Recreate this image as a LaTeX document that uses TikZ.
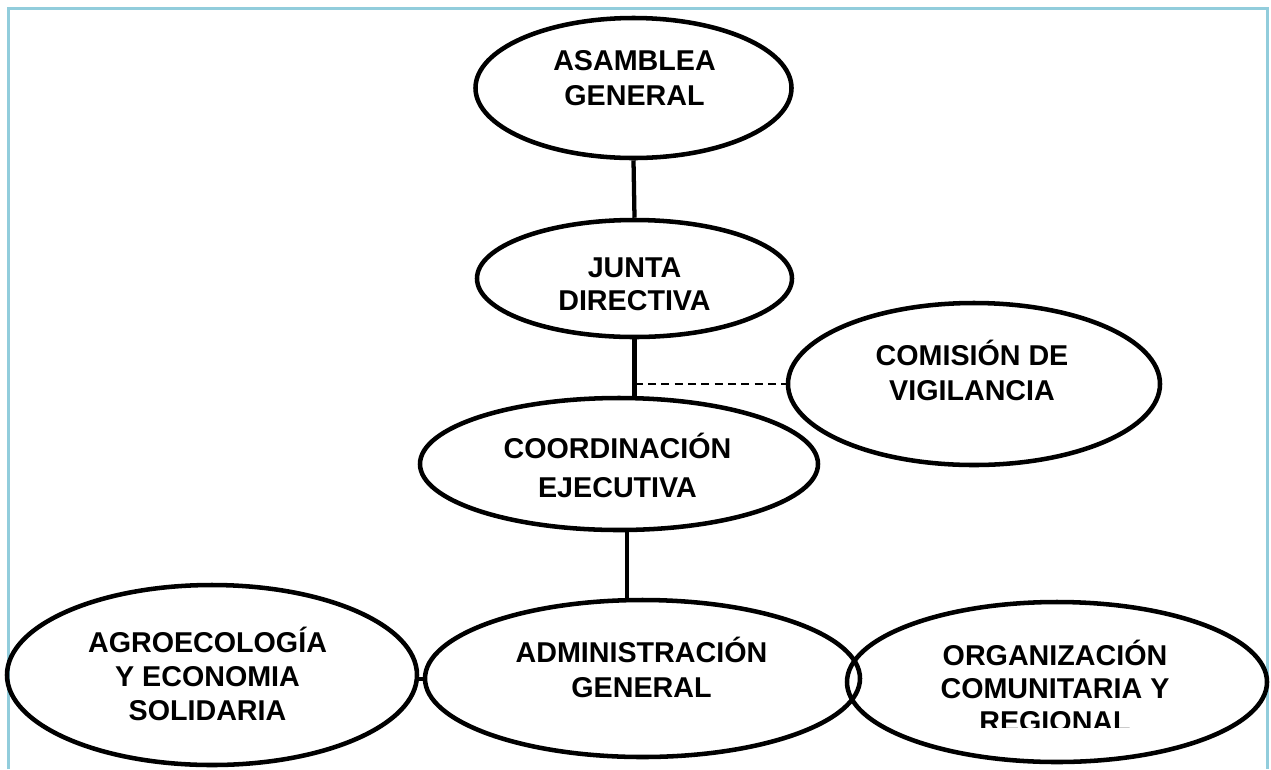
\documentclass[tikz,border=0pt]{standalone}
\usepackage{fontspec}
\setmainfont{Liberation Sans}
\usepackage{tikz}
\usetikzlibrary{shapes.geometric}
\definecolor{marco}{HTML}{92CDDC}

\begin{document}
\begin{tikzpicture}[x=0.75pt,y=0.75pt,yscale=-1,xscale=1,
        organo/.style={ellipse, draw, line width=3.4pt, inner sep=0pt},
        texto/.style={font=\bfseries\fontsize{21.5pt}{#1}\selectfont, align=center, inner sep=0pt, anchor=base},
        texto/.default=26pt,
        enlace/.style={line width=3.2pt},
        guion/.style={line width=1.1pt, dash pattern=on 6pt off 4pt}]
        \useasboundingbox (0,0) rectangle (1271,769);

        %Shape: Frame
        \draw [marco, line width=2.25pt] (8.5,769) -- (8.5,8.5) -- (1267,8.5) -- (1267,769) ;

        %Shape: Ellipse
        \node [organo, minimum width=237pt, minimum height=105pt] (asamblea) at (633.5,88) {};
        %Shape: Ellipse
        \node [organo, minimum width=236.25pt, minimum height=87.75pt] (junta) at (634.5,278.5) {};
        %Shape: Ellipse
        \node [organo, minimum width=298.5pt, minimum height=99pt] (coord) at (619,464) {};
        %Shape: Ellipse
        \node [organo, minimum width=279pt, minimum height=121.5pt] (comision) at (974,384) {};
        %Shape: Ellipse
        \node [organo, minimum width=326.25pt, minimum height=117.75pt] (admin) at (642.5,678.5) {};
        %Shape: Ellipse
        \node [organo, minimum width=307.5pt, minimum height=135pt] (agro) at (212,675) {};
        %Shape: Ellipse
        \node [organo, minimum width=315pt, minimum height=120pt] (org) at (1057,682) {};

        %Straight Lines
        \draw [enlace] (asamblea.south) -- (junta.north) ;
        %Straight Lines
        \draw [enlace] (junta.south) -- (junta.south |- coord.north) ;
        %Straight Lines
        \draw [guion] (junta.south |- comision.west) -- (comision.west) ;
        %Straight Lines
        \draw [enlace] ([xshift=6pt]coord.south) -- ([xshift=6pt]coord.south |- admin.north) ;
        %Straight Lines
        \draw [enlace] ([yshift=3pt]agro.east) -- ([yshift=3pt]agro.east -| admin.west) ;

        % Text Node
        \node [texto] (asambleaT) at (634.5,105) {ASAMBLEA\\GENERAL};
        % Text Node
        \node [texto=24.75pt] (juntaT) at (634.5,310) {JUNTA\\DIRECTIVA};
        % Text Node
        \node [texto=29.25pt] (coordT) at (617.5,497) {COORDINACIÓN\\EJECUTIVA};
        % Text Node
        \node [texto=26.25pt] (comisionT) at (972,400) {COMISIÓN DE\\VIGILANCIA};
        % Text Node
        \node [texto=26.25pt] (adminT) at (641.5,697) {ADMINISTRACIÓN\\GENERAL};
        % Text Node
        \node [texto=25.5pt] (agroT) at (207.5,720) {AGROECOLOGÍA\\Y ECONOMIA\\SOLIDARIA};
        % Text Node
        \begin{scope}
        \clip (880,620) rectangle (1230,727);
        \node [texto=24.75pt] (orgT) at (1055,731) {ORGANIZACIÓN\\COMUNITARIA Y\\REGIONAL};
        \end{scope}
\end{tikzpicture}
\end{document}
